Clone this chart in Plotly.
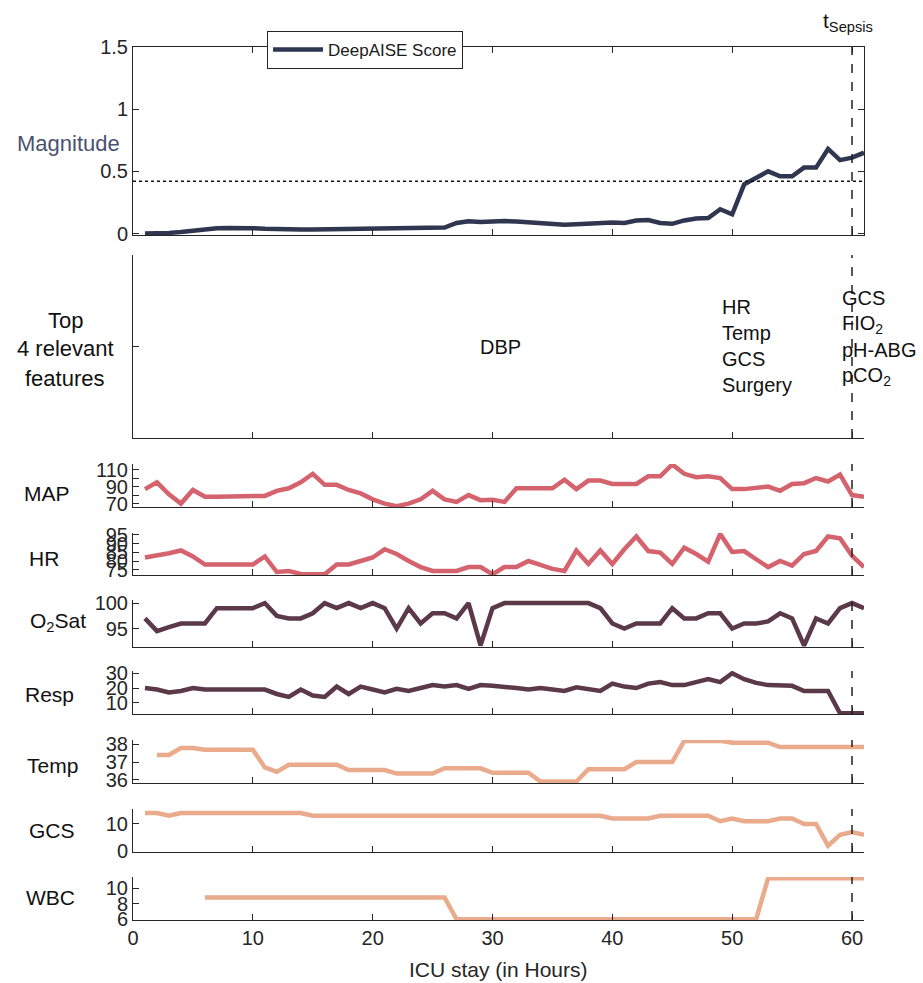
import plotly.graph_objects as go

# ---------------- data ----------------
hours = list(range(1, 62))

deepaise_score = [0, 0, 0.005, 0.012, 0.025, 0.035, 0.042, 0.045, 0.046, 0.043,
                  0.038, 0.034, 0.032, 0.032, 0.032, 0.033, 0.034, 0.035, 0.036, 0.038,
                  0.04, 0.043, 0.045, 0.046, 0.046, 0.048, 0.085, 0.098, 0.093, 0.098,
                  0.1, 0.096, 0.09, 0.082, 0.074, 0.07, 0.074, 0.08, 0.088, 0.088,
                  0.085, 0.105, 0.108, 0.085, 0.078, 0.105, 0.12, 0.125, 0.195, 0.155,
                  0.395, 0.447, 0.5, 0.46, 0.46, 0.53, 0.53, 0.68, 0.59, 0.61, 0.65]
threshold = 0.42

map_vals = [87, 95, 81, 70, 86, 78, 78, 78, 78, 78,
            79, 85, 88, 95, 105, 92, 92, 86, 82, 75,
            70, 67, 70, 75, 85, 75, 72, 80, 74, 74.4,
            72, 88, 88, 89, 88, 98, 87, 97, 97, 93,
            93, 93, 102, 102, 116, 105, 101, 102, 100, 87,
            87, 88, 90, 85, 93, 94, 100, 96, 104, 80, 78]

hr_vals = [82, 83, 84.4, 86, 82.6, 78, 78, 78, 78, 78,
           82.6, 73.7, 74.3, 72.6, 72.4, 72.4, 78, 78, 80, 82,
           86.7, 84, 80, 76.5, 74.3, 74.3, 74.3, 76.5, 76.5, 72.4,
           76.5, 76.5, 80, 77.8, 75.5, 74.3, 86, 78.3, 86, 78.3,
           86.7, 94, 85.7, 84.8, 78.3, 87.6, 84, 79.6, 95.5, 85.2,
           85.7, 81, 76.5, 80, 77.4, 84, 85.7, 94, 93, 83, 76.5]

o2sat_vals = [97, 94.5, 95.3, 96, 96, 96, 99, 99, 99, 99,
              100, 97.5, 97, 97, 98, 100, 99, 100, 99, 100,
              99, 95, 99, 96, 98, 98, 97, 100, 91.7, 99,
              100, 100, 100, 100, 100, 100, 100, 100, 99, 96,
              95, 96, 96, 96, 99, 97, 97, 98, 98, 95,
              96, 96, 96.4, 98, 97, 91.7, 97, 96, 99, 100, 99]

resp_vals = [20, 19, 17, 18, 20, 19, 19, 19, 19, 19,
             19, 16, 14, 19, 15, 14, 21, 16, 21, 19,
             17, 19.5, 18, 20, 22, 21, 22, 19.5, 22, 21.5,
             21, 20, 19, 20, 19, 18, 20.5, 19.5, 18, 23,
             21, 20, 23, 24, 22, 22, 24, 26, 24, 30,
             26, 23.5, 22, 21.5, 21.5, 18, 18, 18, 3, 3, 3]

temp_vals = [None, 37.4, 37.4, 37.8, 37.8, 37.7, 37.7, 37.7, 37.7, 37.7,
             36.7, 36.45, 36.85, 36.85, 36.85, 36.85, 36.85, 36.55, 36.55, 36.55,
             36.55, 36.35, 36.35, 36.35, 36.35, 36.65, 36.65, 36.65, 36.65, 36.4,
             36.4, 36.4, 36.4, 35.9, 35.9, 35.9, 35.9, 36.6, 36.6, 36.6,
             36.6, 37.0, 37.0, 37.0, 37.0, 38.2, 38.2, 38.2, 38.2, 38.1,
             38.1, 38.1, 38.1, 37.85, 37.85, 37.85, 37.85, 37.85, 37.85, 37.85, 37.85]

gcs_vals = [14, 14, 13, 14, 14, 14, 14, 14, 14, 14,
            14, 14, 14, 14, 13, 13, 13, 13, 13, 13,
            13, 13, 13, 13, 13, 13, 13, 13, 13, 13,
            13, 13, 13, 13, 13, 13, 13, 13, 13, 12,
            12, 12, 12, 13, 13, 13, 13, 13, 11, 12,
            11, 11, 11, 12, 12, 10, 10, 2, 6, 7, 6]

wbc_vals = [None, None, None, None, None] + [8.8] * 21 + [6] * 26 + [11.3] * 9

x_ticks = [0, 10, 20, 30, 40, 50, 60]
t_sepsis = 60

# ---------------- styling ----------------
FONT = "Liberation Sans, Helvetica, Arial, sans-serif"
AX = "#262626"
W, H = 923, 983
C_SCORE = "#2f3650"
C_RED = "#d4636e"
C_PLUM = "#5b3948"
C_PEACH = "#eaaa8c"
LW = 4.5
TICK = 20

def py(p):  # pixel y -> paper
    return 1 - p / H

def px(p):  # pixel x -> paper
    return p / W

XDOM = [px(133), px(864)]
XRANGE = [0, 61]

panels = [
    ("top", 47, 235),
    ("feat", 255, 438),
    ("MAP", 464, 507),
    ("HR", 533, 575),
    ("O2", 600, 647),
    ("Resp", 671, 714),
    ("Temp", 740, 783),
    ("GCS", 809, 852),
    ("WBC", 877, 920),
]

series = [
    ("MAP", map_vals, C_RED, [66, 116.5], [70, 80, 90, 100, 110], ["70", "", "90", "", "110"]),
    ("HR", hr_vals, C_RED, [72, 96], [75, 80, 85, 90, 95], ["75", "80", "85", "90", "95"]),
    ("O2", o2sat_vals, C_PLUM, [91.4, 100.6], [95, 100], ["95", "100"]),
    ("Resp", resp_vals, C_PLUM, [2.5, 31.5], [10, 20, 30], ["10", "20", "30"]),
    ("Temp", temp_vals, C_PEACH, [35.82, 38.25], [36, 37, 38], ["36", "37", "38"]),
    ("GCS", gcs_vals, C_PEACH, [-0.3, 15.5], [0, 10], ["0", "10"]),
    ("WBC", wbc_vals, C_PEACH, [5.9, 11.45], [6, 8, 10], ["6", "8", "10"]),
]

fig = go.Figure()
layout = dict(
    width=W, height=H,
    margin=dict(l=0, r=0, t=0, b=0),
    paper_bgcolor="white", plot_bgcolor="white",
    font=dict(family=FONT, size=TICK, color=AX),
    showlegend=True,
    legend=dict(x=px(267), y=py(31), xanchor="left", yanchor="top",
                bordercolor=AX, borderwidth=1, bgcolor="white",
                font=dict(size=17, color="#1a1a1a"),
                itemwidth=50, tracegroupgap=0),
)

def xaxis_common(i, anchor_y, show_labels=False, mirror=False):
    return dict(domain=XDOM, range=XRANGE, anchor=anchor_y,
                tickvals=x_ticks, ticks="inside", ticklen=6, tickcolor=AX,
                showline=True, linecolor=AX, linewidth=1,
                showgrid=False, zeroline=False, showticklabels=show_labels,
                mirror=mirror, automargin=False,
                tickfont=dict(size=TICK, color=AX, family=FONT),
                matches=None if i == 1 else "x")

def yaxis_common(anchor_x, top, bot, rng, tv, tt, mirror=False, show_labels=True):
    return dict(domain=[py(bot), py(top)], range=rng, anchor=anchor_x,
                tickvals=tv, ticktext=tt, ticks="inside", ticklen=6, tickcolor=AX,
                showline=True, linecolor=AX, linewidth=1,
                showgrid=False, zeroline=False, showticklabels=show_labels,
                mirror=mirror, automargin=False,
                tickfont=dict(size=TICK, color=AX, family=FONT))

# panel 1 - score
layout["xaxis"] = xaxis_common(1, "y", mirror="ticks")
layout["yaxis"] = yaxis_common("x", 47, 235, [-0.012, 1.5], [0, 0.5, 1, 1.5],
                               ["0", "0.5", "1", "1.5"], mirror="ticks")
fig.add_trace(go.Scatter(x=hours, y=deepaise_score, mode="lines", name="DeepAISE Score",
                         line=dict(color=C_SCORE, width=LW), xaxis="x", yaxis="y",
                         showlegend=True))
fig.add_trace(go.Scatter(x=XRANGE, y=[threshold, threshold], mode="lines",
                         line=dict(color="#111111", width=1.5, dash="dot"),
                         xaxis="x", yaxis="y", showlegend=False, hoverinfo="skip"))

# panel 2 - features
layout["xaxis2"] = xaxis_common(2, "y2")
layout["yaxis2"] = yaxis_common("x2", 255, 438, [0, 1], [0.5], [""], show_labels=False)
fig.add_trace(go.Scatter(x=[None], y=[None], xaxis="x2", yaxis="y2", showlegend=False))

# small panels
for k, (name, vals, col, rng, tv, tt) in enumerate(series):
    idx = k + 3
    top, bot = panels[k + 2][1], panels[k + 2][2]
    layout[f"xaxis{idx}"] = xaxis_common(idx, f"y{idx}", show_labels=(name == "WBC"))
    layout[f"yaxis{idx}"] = yaxis_common(f"x{idx}", top, bot, rng, tv, tt)
    fig.add_trace(go.Scatter(x=hours, y=vals, mode="lines", name=name,
                             line=dict(color=col, width=LW), connectgaps=False,
                             xaxis=f"x{idx}", yaxis=f"y{idx}", showlegend=False))

fig.update_layout(**layout)

# vertical dashed t_sepsis lines
shapes = []
for idx in range(1, 10):
    xr = "x" if idx == 1 else f"x{idx}"
    yr = "y domain" if idx == 1 else f"y{idx} domain"
    shapes.append(dict(type="line", xref=xr, yref=yr, x0=t_sepsis, x1=t_sepsis,
                       y0=0, y1=1, line=dict(color="#222222", width=1.5, dash="dash")))
fig.update_layout(shapes=shapes)

ann = []
def label(text, xp, yp, size=21, color="#111111", xanchor="center"):
    ann.append(dict(text=text, x=px(xp), y=py(yp), xref="paper", yref="paper",
                    showarrow=False, xanchor=xanchor, yanchor="middle",
                    font=dict(size=size, color=color, family=FONT)))

label("Magnitude", 68, 144, size=22, color="#4a5270")
label("Top", 65, 320, size=22)
label("4 relevant", 65, 348, size=22)
label("features", 65, 378, size=22)
label("MAP", 47, 493)
label("HR", 44, 558)
label("O<sub>2</sub>Sat", 58, 622)
label("Resp", 49, 694)
label("Temp", 52, 765)
label("GCS", 52, 830)
label("WBC", 50, 897)
label("ICU stay (in Hours)", 498, 969, size=21, color=AX)
label("t<sub>Sepsis</sub>", 848, 22, size=21, color="#111111")

def feat(text, xdata, yp):
    ann.append(dict(text=text, x=xdata, y=py(yp), xref="x2", yref="paper",
                    showarrow=False, xanchor="left", yanchor="middle",
                    font=dict(size=20, color="#111111", family=FONT)))

feat("DBP", 28.8, 347)
for t, yy in zip(["HR", "Temp", "GCS", "Surgery"], [307, 333, 359, 385]):
    feat(t, 49.0, yy)
for t, yy in zip(["GCS", "FIO<sub>2</sub>", "pH-ABG", "pCO<sub>2</sub>"], [298, 324, 350, 376]):
    feat(t, 59.0, yy)

fig.update_layout(annotations=ann)
fig.write_html("out.html")
